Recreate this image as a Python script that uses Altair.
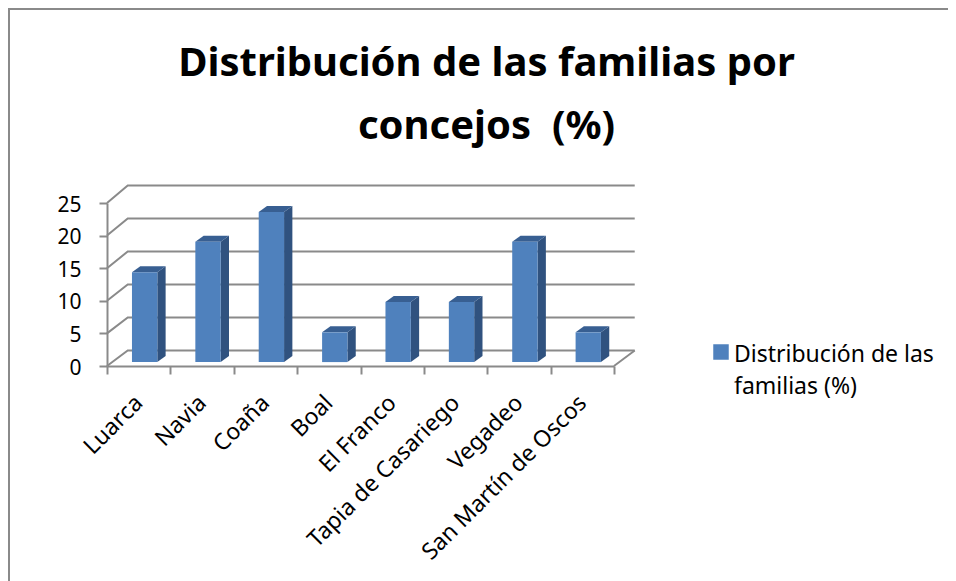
import altair as alt
import pandas as pd

TITLE = ["Distribución de las familias por", "concejos \u00a0(%)"]
SERIES = "Distribución de las familias (%)"
LEGEND_LINES = ["Distribución de las", "familias (%)"]
concejos = ["Luarca", "Navia", "Coaña", "Boal", "El Franco", "Tapia de Casariego", "Vegadeo", "San Martín de Oscos"]
valores = [13.6, 18.2, 22.7, 4.5, 9.1, 9.1, 18.2, 4.5]
y_ticks = [0, 5, 10, 15, 20, 25]

FONT = "Noto Sans"
TEXT = "#000000"
GRID = "#8A8A8A"
FRONT = "#4F81BD"
SIDE = "#30527F"
TOP = "#385F92"

# Projection of the 3-D box, in data units
N = len(concejos)
WALL_DX, WALL_DY, WALL_SCALE = 0.327, 2.38, 1.012
BAR_X0, BAR_W, BAR_DX = 0.394, 0.40, 0.131
BAR_BASE, BAR_DY, BAR_SCALE = 0.6, 0.92, 1.014

XSCALE = alt.Scale(domain=[0, N], nice=False, zero=False)
YSCALE = alt.Scale(domain=[0, 25], nice=False, zero=False)
YAXIS = alt.Axis(
    values=y_ticks, tickSize=8, tickColor=GRID, tickWidth=2, domainColor=GRID, domainWidth=2,
    labelFont=FONT, labelFontSize=21, labelColor=TEXT, labelPadding=18, labelOffset=2, grid=False, title=None,
)


def X(f="x"):
    return alt.X(f"{f}:Q", scale=XSCALE, axis=None, title=None)


def Y(f):
    return alt.Y(f"{f}:Q", scale=YSCALE, axis=YAXIS, title=None)


# Wall and floor lines
grid_rows = []
for v in y_ticks:
    back = v * WALL_SCALE + WALL_DY
    grid_rows += [
        {"g": f"w{v}", "x": 0, "y": v},
        {"g": f"w{v}", "x": WALL_DX, "y": back},
        {"g": f"w{v}", "x": N + WALL_DX, "y": back},
    ]
grid_rows += [{"g": "floor", "x": N, "y": 0}, {"g": "floor", "x": N + WALL_DX, "y": WALL_DY}]
grid_df = pd.DataFrame(grid_rows)

# Bar faces
front, side, top = [], [], []
for i, (c, v) in enumerate(zip(concejos, valores)):
    x0 = i + BAR_X0
    x1 = x0 + BAR_W
    y0 = BAR_BASE
    yt = BAR_BASE + v * BAR_SCALE
    front.append({"c": c, "x": x0, "x2": x1, "y": y0, "y2": yt, "serie": SERIES, "valor": v})
    side += [
        {"c": c, "x": x1, "lo": y0, "hi": yt},
        {"c": c, "x": x1 + BAR_DX, "lo": y0 + BAR_DY, "hi": yt + BAR_DY},
    ]
    top += [
        {"c": c, "x": x0, "lo": yt, "hi": yt},
        {"c": c, "x": x0 + BAR_DX, "lo": yt, "hi": yt + BAR_DY},
        {"c": c, "x": x1, "lo": yt, "hi": yt + BAR_DY},
        {"c": c, "x": x1 + BAR_DX, "lo": yt + BAR_DY, "hi": yt + BAR_DY},
    ]

grid_layer = alt.Chart(grid_df).mark_line(color=GRID, strokeWidth=2, clip=False).encode(
    x=X(), y=Y("y"), detail="g:N",
)

axis_layer = alt.Chart(pd.DataFrame({"c": concejos, "v": valores})).mark_point(opacity=0).encode(
    x=alt.X(
        "c:N",
        sort=concejos,
        title=None,
        scale=alt.Scale(paddingInner=0, paddingOuter=0),
        axis=alt.Axis(
            labelAngle=-45, labelAlign="right", labelBaseline="middle", tickBand="extent",
            tickSize=8, tickColor=GRID, tickWidth=2, domainColor=GRID, domainWidth=2,
            labelFont=FONT, labelFontSize=23, labelColor=TEXT, labelPadding=25, labelLimit=400,
            labelOverlap=False, grid=False,
        ),
    ),
    y=Y("v"),
)

side_layer = alt.Chart(pd.DataFrame(side)).mark_area(color=SIDE, interpolate="linear", clip=False).encode(
    x=X(), y=Y("lo"), y2="hi:Q", detail="c:N",
)
top_layer = alt.Chart(pd.DataFrame(top)).mark_area(color=TOP, interpolate="linear", clip=False).encode(
    x=X(), y=Y("lo"), y2="hi:Q", detail="c:N",
)
front_layer = alt.Chart(pd.DataFrame(front)).mark_rect(clip=False).encode(
    x=X(),
    x2=alt.X2("x2:Q"),
    y=Y("y"),
    y2="y2:Q",
    color=alt.Color(
        "serie:N",
        scale=alt.Scale(domain=[SERIES], range=[FRONT]),
        legend=alt.Legend(
            title=LEGEND_LINES, orient="none", legendX=606, legendY=141, titleOrient="right",
            titleFont=FONT, titleFontSize=23, titleFontWeight="normal", titleColor=TEXT, titleLineHeight=32,
            titleLimit=400, titleAnchor="start", titleAlign="left", titlePadding=1, labelExpr="''", labelFontSize=1,
            symbolType="square", symbolSize=240, symbolStrokeWidth=0,
        ),
    ),
)

# Chart frame: top and left edges only reach the picture
frame_top = alt.Chart(pd.DataFrame({"a": [0]})).mark_rule(color=GRID, strokeWidth=2).encode(
    x=alt.value(-99), x2=alt.value(850), y=alt.value(-194),
)
frame_left = alt.Chart(pd.DataFrame({"a": [0]})).mark_rule(color=GRID, strokeWidth=2).encode(
    x=alt.value(-98), y=alt.value(-195), y2=alt.value(380),
)

chart = alt.layer(
    frame_top, frame_left, grid_layer, axis_layer, side_layer, top_layer, front_layer
).resolve_scale(x="independent").properties(
    width=507,
    height=163,
    background="#FFFFFF",
    autosize=alt.AutoSizeParams(type="none"),
    padding={"left": 99, "top": 195, "right": 334, "bottom": 215},
    title=alt.TitleParams(
        text=TITLE, font=FONT, fontSize=40, fontWeight="bold", color=TEXT, anchor="middle",
        dx=126, dy=140, offset=0, lineHeight=63, frame="group",
    ),
).configure_view(stroke=None)

chart.save("out.html", embed_options={"renderer": "svg", "actions": False})
